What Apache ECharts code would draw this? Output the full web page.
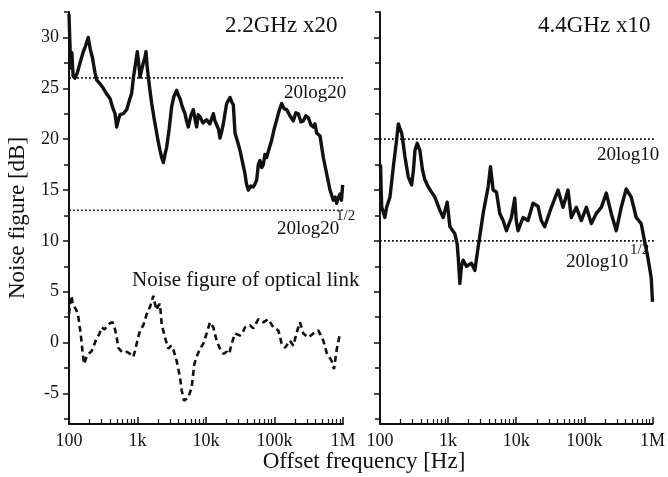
<!DOCTYPE html>
<html><head><meta charset="utf-8">
<script src="https://cdn.jsdelivr.net/npm/echarts@6/dist/echarts.min.js"></script>
<style>html,body{margin:0;padding:0;background:#fff}#c{width:668px;height:477px}</style>
</head><body><div id="c"></div>
<script>
// ---------- data ----------
const yTickLabels = [-5, 0, 5, 10, 15, 20, 25, 30];
const yMinorTicks = [-7.5, -2.5, 2.5, 7.5, 12.5, 17.5, 22.5, 27.5, 32.5];
const xTickLabels = { 2: '100', 3: '1k', 4: '10k', 5: '100k', 6: '1M' };

// 2.2GHz x20 noise figure (Hz, dB)
const nf22Freq = [100,103,106,110,115,122,132,145,160,175,191,205,220,240,254,280,317,350,397,430,470,497,530,556,620,695,760,822,870,920,994,1040,1087,1150,1216,1280,1331,1380,1439,1520,1612,1750,1906,2000,2130,2250,2383,2520,2664,2900,3153,3400,3730,3950,4170,4500,4933,5200,5517,6000,6527,6900,7300,7700,8166,9000,10220,11400,12790,13500,14300,15200,16000,17000,17900,19000,20030,22400,24000,25050,26500,28800,31340,34000,37070,39000,41460,45000,49050,52000,54950,58000,61400,65000,68700,72500,76850,83000,90920,99000,107600,117000,127300,138000,150600,168000,188400,205000,222900,243000,263700,287000,311900,340000,368900,390000,412600,461500,516200,577400,645800,722400,770000,808000,850000,903800,950000,989000];
const nf22Val = [32.3,29.5,27.0,28.5,26.2,26.0,26.5,27.5,28.5,29.2,30.0,28.8,28.0,26.5,25.8,25.5,25.0,24.5,24.0,23.2,22.5,21.2,22.0,22.4,22.5,22.9,23.8,24.5,26.0,27.1,28.6,27.5,26.1,26.8,27.5,28.0,28.6,27.2,26.1,24.8,23.5,22.0,20.6,19.8,18.9,18.2,17.7,18.5,19.2,21.0,23.2,24.2,24.8,24.3,24.0,23.2,22.5,21.8,21.2,22.3,22.9,22.0,21.2,22.4,22.2,21.6,21.9,21.5,22.5,21.8,21.9,21.0,20.1,20.8,21.5,22.6,23.5,24.1,23.6,23.4,20.6,19.8,18.9,17.8,16.6,15.6,15.0,15.4,15.3,15.6,16.0,17.5,17.9,17.2,17.5,18.5,18.2,19.0,19.9,21.0,21.9,22.8,23.5,23.0,22.9,22.3,21.8,22.6,22.5,21.7,21.8,22.3,22.1,21.4,21.2,21.5,20.6,20.3,18.2,16.6,15.0,14.0,14.3,13.7,14.2,14.6,14.0,15.5];

// Noise figure of optical link (Hz, dB)
const optFreq = [100,104,109,113,118,128,137,148,157,166,178,191,210,226,254,275,300,330,355,395,434,470,497,525,570,621,700,778,869,920,972,1087,1216,1361,1521,1702,1800,1906,2000,2130,2254,2518,2818,3100,3334,3730,4170,4416,4774,5100,5517,6177,6756,7300,8166,9140,10220,11440,12790,13500,14300,16000,17900,20030,21800,23700,26500,31340,34000,37070,43850,49050,58050,68700,81300,96200,113800,127300,142300,168400,188400,215500,235500,263700,311900,368900,436500,516200,577400,683400,739000,808000,903800];
const optVal = [2.8,4.0,4.6,3.8,3.6,3.2,2.5,0.9,-0.8,-2.1,-1.5,-1.1,-0.9,-0.5,0.5,0.8,1.5,1.3,1.6,1.9,2.0,1.3,0.5,-0.5,-0.8,-1.0,-0.9,-1.1,-1.4,-0.8,-0.1,1.2,1.7,2.8,3.5,4.6,3.8,3.2,3.6,3.8,1.8,0.5,-0.6,-0.3,-0.7,-1.8,-3.4,-4.7,-5.7,-5.6,-5.4,-4.4,-2.1,-1.4,-0.6,-0.1,0.9,2.0,1.5,1.6,0.2,-0.6,-1.1,-0.9,-1.1,-0.1,0.9,0.7,0.9,1.5,1.7,1.4,2.3,2.0,2.3,1.5,1.2,-0.1,-0.5,0.2,-0.3,1.2,2.0,0.9,0.5,0.9,1.2,0.2,-1.0,-1.8,-2.6,-0.7,0.9];

// 4.4GHz x10 noise figure (Hz, dB)
const nf44Freq = [100,102,104,106,112,118,125,140,157,175,186,197,208,220,232,260,291,310,326,352,385,420,456,511,571,639,700,757,847,969,1061,1256,1358,1420,1486,1570,1663,1862,2204,2466,2760,3267,3867,4185,4576,5120,5730,6411,7175,8492,9500,10000,10630,12580,14890,17620,20850,23330,26180,32800,41060,48570,57450,64300,76200,90200,106900,126500,149700,177100,209700,248200,293800,347700,411300,487500,576800,682800,763800,853600,957000,1000000];
const nf44Val = [17.5,17.3,15.0,13.3,12.8,12.3,13.3,14.3,17.3,19.9,21.5,21.0,20.6,19.5,18.3,16.3,15.5,17.0,18.9,19.6,18.9,17.0,16.0,15.3,14.8,14.3,13.6,13.0,12.3,13.8,11.4,10.7,9.7,8.0,5.8,7.5,8.1,7.5,7.8,7.1,9.4,12.7,15.3,17.3,15.0,14.8,12.7,12.0,11.0,12.3,14.2,12.0,11.0,12.3,12.0,13.7,13.4,12.0,11.4,13.3,15.0,13.3,15.0,12.3,13.3,12.0,13.3,11.7,12.7,13.3,14.7,12.7,11.0,13.3,15.1,14.3,12.3,11.7,10.0,8.4,6.4,4.0];

// reference levels: 20log20, 20log20^(1/2), 20log10, 20log10^(1/2)
const levels22 = [26.02, 13.01];
const levels44 = [20, 10];
const levelSpan = [100, 1080000];

// ---------- chart ----------
const FONT = 'Liberation Serif';
const INK = '#111';
const minorX = [];
for (let d = 2; d < 6; d++) for (let k = 2; k <= 9; k++) minorX.push(d + Math.log10(k));

const zip = (xs, ys) => xs.map((x, i) => [x, ys[i]]);

function xAxesFor(g) {
  return [
    {
      type: 'log', logBase: 10, min: 100, max: 1000000, gridIndex: g, position: 'bottom',
      axisLine: { show: true, onZero: false, lineStyle: { color: INK, width: 2 } },
      axisTick: { show: true, inside: true, length: 7, lineStyle: { color: INK, width: 1.5 } },
      axisLabel: {
        show: true, margin: 8, color: INK, fontFamily: FONT, fontSize: 18,
        formatter: v => xTickLabels[Math.round(Math.log10(v))] || ''
      },
      splitLine: { show: false }, minorTick: { show: false }
    },
    {
      type: 'value', min: 2, max: 6, gridIndex: g, position: 'bottom', offset: 0,
      axisLine: { show: false, onZero: false },
      axisTick: { show: true, inside: true, length: 5, customValues: minorX, lineStyle: { color: INK, width: 1.2 } },
      axisLabel: { show: false },
      splitLine: { show: false }
    }
  ];
}
function yAxesFor(g, withLabels) {
  return [
    {
      type: 'value', min: -8, max: 32.5, gridIndex: g, position: 'left',
      name: withLabels ? 'Noise figure [dB]' : '', nameLocation: 'middle', nameGap: 40,
      nameTextStyle: { fontFamily: FONT, fontSize: 23, color: INK },
      axisLine: { show: true, onZero: false, lineStyle: { color: INK, width: 2 } },
      axisTick: { show: true, inside: false, length: 6, customValues: yTickLabels, lineStyle: { color: INK, width: 1.5 } },
      axisLabel: { show: withLabels, customValues: yTickLabels, margin: 10, color: INK, fontFamily: FONT, fontSize: 18 },
      splitLine: { show: false }
    },
    {
      type: 'value', min: -8, max: 32.5, gridIndex: g, position: 'left', offset: 0,
      axisLine: { show: false, onZero: false },
      axisTick: { show: true, inside: false, length: 5, customValues: yMinorTicks, lineStyle: { color: INK, width: 1.5 } },
      axisLabel: { show: false },
      splitLine: { show: false }
    }
  ];
}

function levelSeries(val, xi, yi) {
  return {
    type: 'line', xAxisIndex: xi, yAxisIndex: yi, clip: false, silent: true,
    showSymbol: false, symbol: 'none',
    data: levelSpan.map(f => [f, val]),
    lineStyle: { color: INK, width: 1.6, type: [1.8, 2.2] }
  };
}

const txt = (x, y, text, size, align) => ({
  type: 'text', x: x, y: y, silent: true,
  style: { text: text, fontFamily: FONT, fontSize: size, fill: INK, align: align || 'left', verticalAlign: 'middle' }
});

const option = {
  backgroundColor: '#fff',
  animation: false,
  grid: [
    { left: 69, top: 12, width: 274, height: 412, containLabel: false },
    { left: 380, top: 12, width: 273, height: 412, containLabel: false }
  ],
  xAxis: [...xAxesFor(0), ...xAxesFor(1)],
  yAxis: [...yAxesFor(0, true), ...yAxesFor(1, false)],
  series: [
    levelSeries(levels22[0], 0, 0),
    levelSeries(levels22[1], 0, 0),
    levelSeries(levels44[0], 2, 2),
    levelSeries(levels44[1], 2, 2),
    {
      type: 'line', xAxisIndex: 0, yAxisIndex: 0, showSymbol: false, symbol: 'none',
      data: zip(nf22Freq, nf22Val),
      lineStyle: { color: INK, width: 3.4, join: 'round' }
    },
    {
      type: 'line', xAxisIndex: 0, yAxisIndex: 0, showSymbol: false, symbol: 'none',
      data: zip(optFreq, optVal),
      lineStyle: { color: INK, width: 2.6, type: [6, 4] }
    },
    {
      type: 'line', xAxisIndex: 2, yAxisIndex: 2, showSymbol: false, symbol: 'none',
      data: zip(nf44Freq, nf44Val),
      lineStyle: { color: INK, width: 3.4, join: 'round' }
    }
  ],
  graphic: [
    txt(225, 26, '2.2GHz x20', 23),
    txt(538, 26, '4.4GHz x10', 23),
    txt(284, 93, '20log20', 19),
    txt(277, 229, '20log20', 19),
    txt(336, 216, '1/2', 15),
    txt(597, 155, '20log10', 19),
    txt(566, 262, '20log10', 19),
    txt(630, 250, '1/2', 15),
    txt(132, 280, 'Noise figure of optical link', 21),
    txt(364, 462, 'Offset frequency [Hz]', 23, 'center')
  ]
};

const chart = echarts.init(document.getElementById('c'), null, { renderer: 'canvas' });
chart.setOption(option);
</script>
</body></html>
